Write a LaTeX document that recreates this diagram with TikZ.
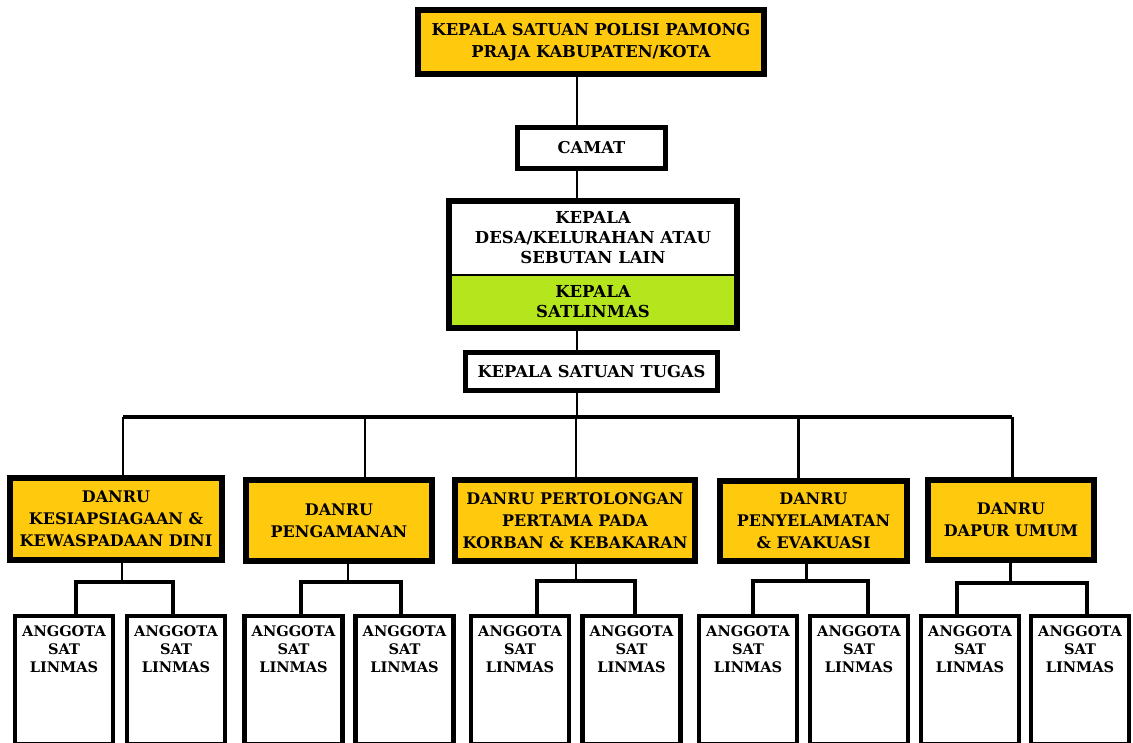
\documentclass[tikz,border=0pt]{standalone}
\usepackage{fontspec}
\setmainfont{DejaVu Serif}
\definecolor{gold}{HTML}{FFC90E}
\definecolor{limegreen}{HTML}{B5E61D}
\tikzset{
  box/.style={draw=black, line width=3.2pt, align=center, inner sep=0pt,
    font=\fontsize{9.1}{12.4}\selectfont\bfseries},
  goldbox/.style={box, fill=gold},
  whitebox/.style={box, fill=white, line width=2.8pt, font=\fontsize{9.3}{12}\selectfont\bfseries},
  fillbox/.style={align=center, inner sep=0pt, outer sep=0pt,
    font=\fontsize{9.4}{11.4}\selectfont\bfseries},
  member/.style={draw=black, line width=2.4pt, fill=white, anchor=north,
    minimum width=1.96cm, inner xsep=0pt, inner ysep=0.19cm,
    font=\fontsize{8.3}{10.3}\selectfont\bfseries},
  spine/.style={line width=1.7pt},
  bus/.style={line width=2.6pt},
  subbus/.style={line width=2.2pt, line join=miter}
}
\newcommand{\anggota}{\parbox[t][2.19cm][t]{1.96cm}{\centering ANGGOTA\\SAT\\LINMAS}}
\begin{document}
\begin{tikzpicture}[x=0.02cm, y=-0.02cm]
  \useasboundingbox[fill=white] (0,0) rectangle (1133,743);

  % top of the chain
  \node[goldbox, minimum width=6.93cm, minimum height=1.29cm,
    font=\fontsize{9.3}{12.5}\selectfont\bfseries] (kasat) at (591,42)
    {KEPALA SATUAN POLISI PAMONG\\PRAJA KABUPATEN/KOTA};
  \node[whitebox, minimum width=2.96cm, minimum height=0.82cm] (camat) at (591.5,148) {CAMAT};
  \node[fillbox, fill=white, minimum width=5.77cm, minimum height=1.48cm] (desa) at (593,237.9)
    {KEPALA\\DESA/KELURAHAN ATAU\\SEBUTAN LAIN};
  \node[fillbox, fill=limegreen, minimum width=5.77cm, minimum height=1.06cm] (satlinmas) at (593,301.6)
    {KEPALA\\SATLINMAS};
  \draw[line width=3.2pt] (desa.north west) rectangle (satlinmas.south east);
  \draw[line width=1pt] (desa.south west) -- (desa.south east);
  \node[whitebox, minimum width=5.04cm, minimum height=0.76cm] (satgas) at (591.5,371.5)
    {KEPALA SATUAN TUGAS};

  \coordinate (axis) at (577,417);
  \draw[spine] (kasat.south -| axis) -- (camat.north -| axis);
  \draw[spine] (camat.south -| axis) -- (desa.north -| axis);
  \draw[spine] (satlinmas.south -| axis) -- (satgas.north -| axis);
  \draw[spine] (satgas.south -| axis) -- (axis);

  % danru row
  \node[goldbox, minimum width=4.25cm, minimum height=1.65cm] (danru1) at (116,519)
    {DANRU\\KESIAPSIAGAAN \&\\KEWASPADAAN DINI};
  \node[goldbox, minimum width=3.73cm, minimum height=1.63cm] (danru2) at (339,520.5)
    {DANRU\\PENGAMANAN};
  \node[goldbox, minimum width=4.81cm, minimum height=1.63cm] (danru3) at (575,520.5)
    {DANRU PERTOLONGAN\\PERTAMA PADA\\KORBAN \& KEBAKARAN};
  \node[goldbox, minimum width=3.75cm, minimum height=1.61cm] (danru4) at (813.5,521)
    {DANRU\\PENYELAMATAN\\\& EVAKUASI};
  \node[goldbox, minimum width=3.33cm, minimum height=1.61cm] (danru5) at (1011,520)
    {DANRU\\DAPUR UMUM};

  \coordinate (b1) at (123,417);
  \coordinate (b2) at (365,417);
  \coordinate (b3) at (576,417);
  \coordinate (b4) at (798,417);
  \coordinate (b5) at (1012,417);
  \draw[bus] (b1) -- (b5);
  \draw[spine] (b1) -- (danru1.north -| b1);
  \draw[spine] (b2) -- (danru2.north -| b2);
  \draw[spine] (b3) -- (danru3.north -| b3);
  \draw[spine] (b4) -- (danru4.north -| b4);
  \draw[spine] (b5) -- (danru5.north -| b5);

  % anggota row
  \node[member] (a11) at (64,613.6) {\anggota};
  \node[member] (a12) at (176,613.6) {\anggota};
  \node[member] (a21) at (293.5,613.6) {\anggota};
  \node[member] (a22) at (404.5,613.6) {\anggota};
  \node[member] (a31) at (520,613.6) {\anggota};
  \node[member] (a32) at (631.5,613.6) {\anggota};
  \node[member] (a41) at (748,613.6) {\anggota};
  \node[member] (a42) at (859,613.6) {\anggota};
  \node[member] (a51) at (970,613.6) {\anggota};
  \node[member] (a52) at (1080,613.6) {\anggota};

  \coordinate (j1) at (122,582);  \coordinate (j1l) at (76,582);  \coordinate (j1r) at (173,582);
  \coordinate (j2) at (348,582);  \coordinate (j2l) at (301,582); \coordinate (j2r) at (401,582);
  \coordinate (j3) at (576,581);  \coordinate (j3l) at (537,581); \coordinate (j3r) at (635,581);
  \coordinate (j4) at (806,581);  \coordinate (j4l) at (753,581); \coordinate (j4r) at (868,581);
  \coordinate (j5) at (1010,583); \coordinate (j5l) at (957,583); \coordinate (j5r) at (1087,583);

  \draw[spine] (danru1.south -| j1) -- (j1);
  \draw[subbus] (a11.north -| j1l) -- (j1l) -- (j1r) -- (a12.north -| j1r);
  \draw[spine] (danru2.south -| j2) -- (j2);
  \draw[subbus] (a21.north -| j2l) -- (j2l) -- (j2r) -- (a22.north -| j2r);
  \draw[spine] (danru3.south -| j3) -- (j3);
  \draw[subbus] (a31.north -| j3l) -- (j3l) -- (j3r) -- (a32.north -| j3r);
  \draw[spine] (danru4.south -| j4) -- (j4);
  \draw[subbus] (a41.north -| j4l) -- (j4l) -- (j4r) -- (a42.north -| j4r);
  \draw[spine] (danru5.south -| j5) -- (j5);
  \draw[subbus] (a51.north -| j5l) -- (j5l) -- (j5r) -- (a52.north -| j5r);
\end{tikzpicture}
\end{document}
